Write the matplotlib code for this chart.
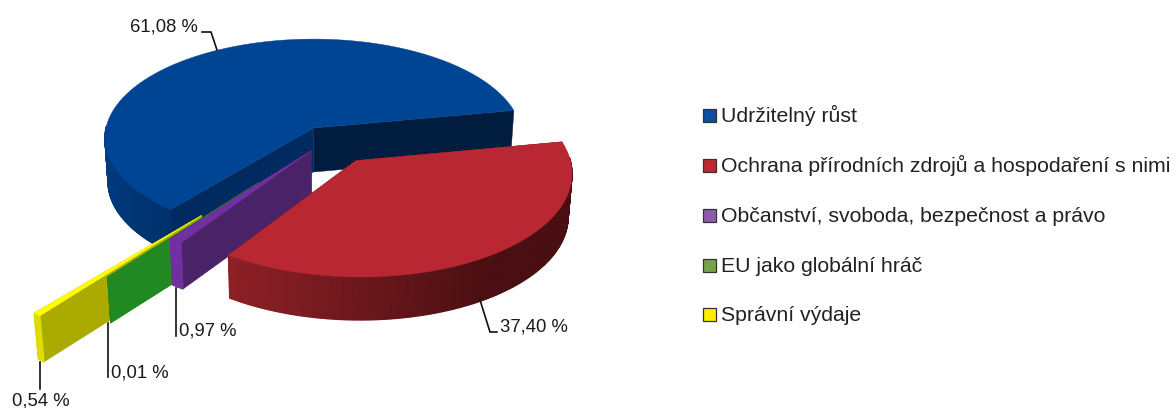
import numpy as np
import matplotlib
matplotlib.use("Agg")
import matplotlib.pyplot as plt
from matplotlib.colors import to_rgb
from matplotlib.patches import Polygon, Rectangle

plt.rcParams['font.family'] = ['Liberation Sans', 'DejaVu Sans']

categories = ["Udržitelný růst", "Ochrana přírodních zdrojů a hospodaření s nimi",
              "Občanství, svoboda, bezpečnost a právo", "EU jako globální hráč", "Správní výdaje"]
values = [61.08, 37.40, 0.97, 0.01, 0.54]
legend_colors = ["#0a4fa3", "#c0282f", "#8e5aa9", "#77a349", "#ffee00"]

# slice styles: top, far wall, near wall, side colour left, side colour right
top_colors = ["#004494", "#b92832", "#7030a0", "#228822", "#ffff00"]
far_wall = ["#001c3f", "#4a0f12", "#4a2268", "#228822", "#aaaa00"]
near_wall = ["#002a60", "#4a0f12", "#4a2268", "#228822", "#aaaa00"]
side_left = ["#003a80", "#8f2026", "#7030a0", "#228822", "#dddd00"]
side_right = ["#003068", "#4a0f12", "#7030a0", "#228822", "#dddd00"]
side_range = [(-1.0, -0.6), (-0.56, 0.55), (-1, 1), (-1, 1), (-1, 1)]
# explosion of each slice, in units of the pie radius, and drawn thickness in px
explode = [(0, 0), (0.198, -0.322), (-0.01, -0.225), (-0.25, -0.53), (-0.495, -0.82)]
depths = [44, 43, 46, 46, 46]

CX, CY = 313.5, 128
RX, RY = 207.5, 97.8
PERSP = 0.1
START = 230.4  # angle where the first slice starts, running clockwise


def project(x, y, depth=0):
    s = 1 / (1 + PERSP * y)
    px = x * RX * s
    py = -y * RY * s
    if depth:
        return CX + px * 0.985, CY + py + depth
    return CX + px, CY + py


def poly(ax, pts, color, lw=0.3):
    ax.add_patch(Polygon(pts, closed=True, facecolor=color, edgecolor=color, lw=lw))


def lerp(c0, c1, t):
    return tuple((1 - t) * a + t * b for a, b in zip(to_rgb(c0), to_rgb(c1)))


def draw_slice(ax, i, a0, a1):
    dx, dy = explode[i]
    d = depths[i]
    angles = np.radians(np.linspace(a0, a1, max(int(abs(a1 - a0) * 1.5), 2)))
    xs = dx + np.cos(angles)
    ys = dy + np.sin(angles)

    # cut walls
    for (x, y), col in (((xs[-1], ys[-1]), far_wall[i]), ((xs[0], ys[0]), near_wall[i])):
        poly(ax, [project(dx, dy), project(x, y), project(x, y, d), project(dx, dy, d)], col)

    # outer side, front half only, as small strips so the shading can change along the arc
    lo, hi = side_range[i]
    for k in range(len(angles) - 1):
        if np.sin(angles[k]) > 0.02 and np.sin(angles[k + 1]) > 0.02:
            continue
        t = np.clip((np.cos(angles[k]) - lo) / (hi - lo), 0, 1)
        poly(ax, [project(xs[k], ys[k]), project(xs[k + 1], ys[k + 1]),
                  project(xs[k + 1], ys[k + 1], d), project(xs[k], ys[k], d)],
             lerp(side_left[i], side_right[i], t), lw=0.9)

    # top surface
    pts = [project(dx, dy)] + [project(x, y) for x, y in zip(xs, ys)]
    poly(ax, pts, top_colors[i])


fig = plt.figure(figsize=(11.76, 4.08), dpi=100)
ax = fig.add_axes([0, 0, 1, 1])
ax.set_xlim(0, 1176)
ax.set_ylim(408, 0)
ax.axis("off")

# slice angles from the values
spans = np.array(values) / sum(values) * 360
ends = START - np.cumsum(spans)
starts = np.r_[START, ends[:-1]]

# back to front
for i in [0, 4, 3, 2, 1]:
    draw_slice(ax, i, starts[i], ends[i])

# data labels with leader lines
labels = [f"{v:.2f}".replace(".", ",") + " %" for v in values]
leaders = [[(202, 32), (211, 32), (217, 50)],
           [(480, 300), (490, 332), (497, 332)],
           [(176, 288), (176, 336)],
           [(108, 323), (108, 377)],
           [(40, 362), (40, 389)]]
label_pos = [(130, 32), (500, 332), (179, 336), (111, 378), (12, 406)]
for lab, line, pos in zip(labels, leaders, label_pos):
    ax.plot(*zip(*line), color="#111111", lw=1.2, solid_joinstyle="miter")
    ax.text(pos[0], pos[1], lab, fontsize=13.3, color="#1a1a1a", ha="left", va="baseline")

# legend
legend_y = [115, 165, 215, 265, 314]
for name, col, y in zip(categories, legend_colors, legend_y):
    ax.add_patch(Rectangle((703, y - 6.5), 13, 13, facecolor=col, edgecolor="#333333", lw=0.9))
    ax.text(721, y + 7, name, fontsize=15.35, color="#222222", ha="left", va="baseline")

fig.savefig("out.png", dpi=100)
